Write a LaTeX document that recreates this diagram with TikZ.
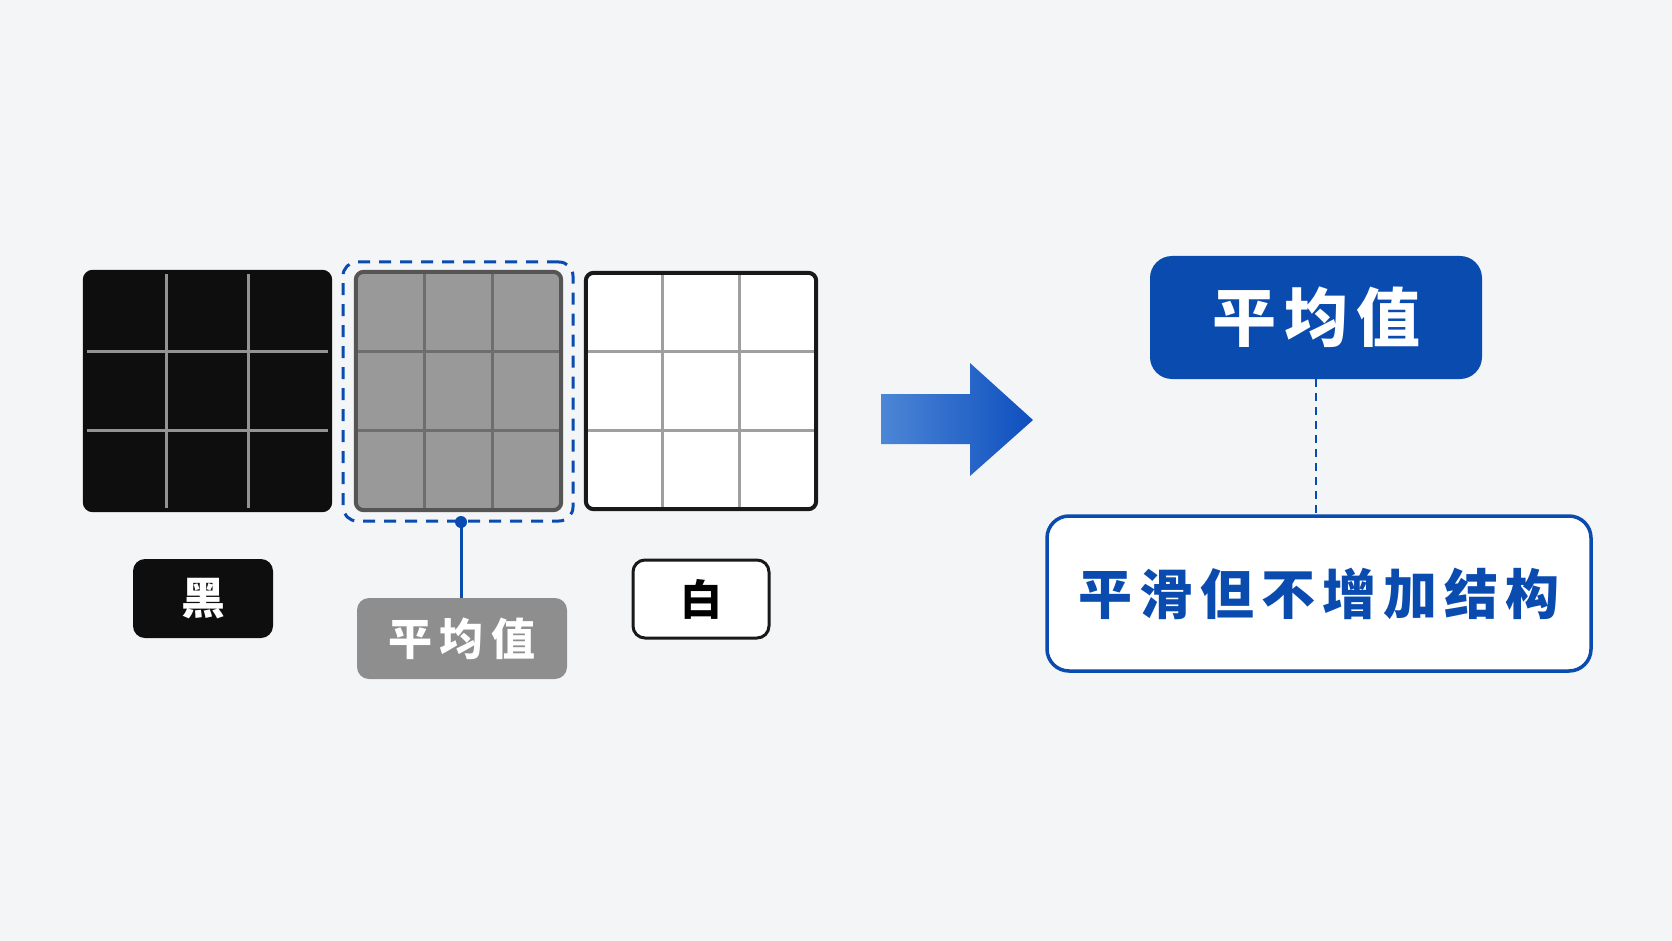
\documentclass[tikz,border=0pt]{standalone}
\usepackage{fontspec}
\newfontfamily\cjk{Noto Sans CJK SC}
\usetikzlibrary{calc}
\definecolor{bg}{HTML}{F4F5F7}
\definecolor{mblue}{HTML}{0A4BB0}
\definecolor{arrL}{HTML}{4C86D6}
\definecolor{arrR}{HTML}{0E4FBE}
\definecolor{blkfill}{HTML}{0E0E0E}
\definecolor{grayfill}{HTML}{999999}
\definecolor{grayedge}{HTML}{555555}
\definecolor{graylab}{HTML}{8E8E8E}
\tikzset{
  gridbox/.style={rectangle, rounded corners=8pt, inner sep=0pt},
  labbox/.style={rectangle, rounded corners=12pt, inner sep=0pt, font=\cjk\bfseries},
  gline/.style={line width=3pt},
}
\begin{document}
\begin{tikzpicture}[x=1pt,y=-1pt]
\fill[bg] (0,0) rectangle (1672,941);
\useasboundingbox (0,0) rectangle (1672,941);

% dashed highlight
\node[rectangle, rounded corners=14pt, draw=mblue, line width=3pt, dash pattern=on 12pt off 9pt,
      minimum width=230pt, minimum height=259pt] (hl) at (458,391.5) {};

% grids
\node[gridbox, fill=blkfill, minimum width=245pt, minimum height=238pt] (blk) at (207.5,391) {};
\node[gridbox, fill=grayfill, minimum width=205pt, minimum height=238pt] (gry) at (458.5,391) {};
\node[gridbox, fill=white, minimum width=230pt, minimum height=236pt] (wht) at (701,391) {};

\foreach \b/\c in {blk/gray!85, gry/grayedge!85, wht/gray!75}{
  \foreach \f in {1,2}{
    \draw[gline, draw=\c] ($(\b.north west)!\f/3!(\b.north east)$) -- ($(\b.south west)!\f/3!(\b.south east)$);
    \draw[gline, draw=\c] ($(\b.north west)!\f/3!(\b.south west)$) -- ($(\b.north east)!\f/3!(\b.south east)$);
  }
}
\draw[line width=4pt, draw=blkfill, rounded corners=8pt] (blk.north west) rectangle (blk.south east);
\draw[line width=4pt, draw=grayedge, rounded corners=8pt] (gry.north west) rectangle (gry.south east);
\draw[line width=4pt, draw=black!90, rounded corners=8pt] (wht.north west) rectangle (wht.south east);

% labels
\node[labbox, fill=blkfill, text=white, minimum width=140pt, minimum height=79pt, font=\cjk\bfseries\fontsize{44}{44}\selectfont] (lblk) at (203,598.5) {黑};
\node[labbox, fill=graylab, text=white, minimum width=210pt, minimum height=81pt, font=\cjk\bfseries\fontsize{44}{44}\selectfont] (lgry) at (462,638.5) {平\hspace{8pt}均\hspace{8pt}值};
\node[labbox, fill=white, draw=black!90, line width=3pt, text=black, minimum width=136pt, minimum height=78pt, font=\cjk\bfseries\fontsize{42}{42}\selectfont] (lwht) at (701,599) {白};

% connector from highlight to gray label
\coordinate (dot) at (461,522);
\fill[mblue] (dot) circle (6pt);
\draw[mblue, line width=3pt] (dot) -- (dot |- lgry.north);

% big arrow
\shade[left color=arrL, right color=arrR] (881,394) -- (970,394) -- (970,363) -- (1033,420) -- (970,476) -- (970,444) -- (881,444) -- cycle;

% right side
\node[rectangle, rounded corners=22pt, fill=mblue, text=white, minimum width=332pt, minimum height=123pt,
      font=\cjk\bfseries\fontsize{64}{64}\selectfont] (avg) at (1316,317.5) {平\hspace{8pt}均\hspace{8pt}值};
\node[rectangle, rounded corners=22pt, fill=white, draw=mblue, line width=3.5pt, text=mblue, minimum width=544pt, minimum height=155pt,
      font=\cjk\bfseries\fontsize{54}{54}\selectfont] (res) at (1319,593.5)
      {平\hspace{7pt}滑\hspace{7pt}但\hspace{7pt}不\hspace{7pt}增\hspace{7pt}加\hspace{7pt}结\hspace{7pt}构};
\draw[mblue, line width=2.5pt, dash pattern=on 8pt off 6pt] (avg.south) -- (avg.south |- res.north);
\end{tikzpicture}
\end{document}
